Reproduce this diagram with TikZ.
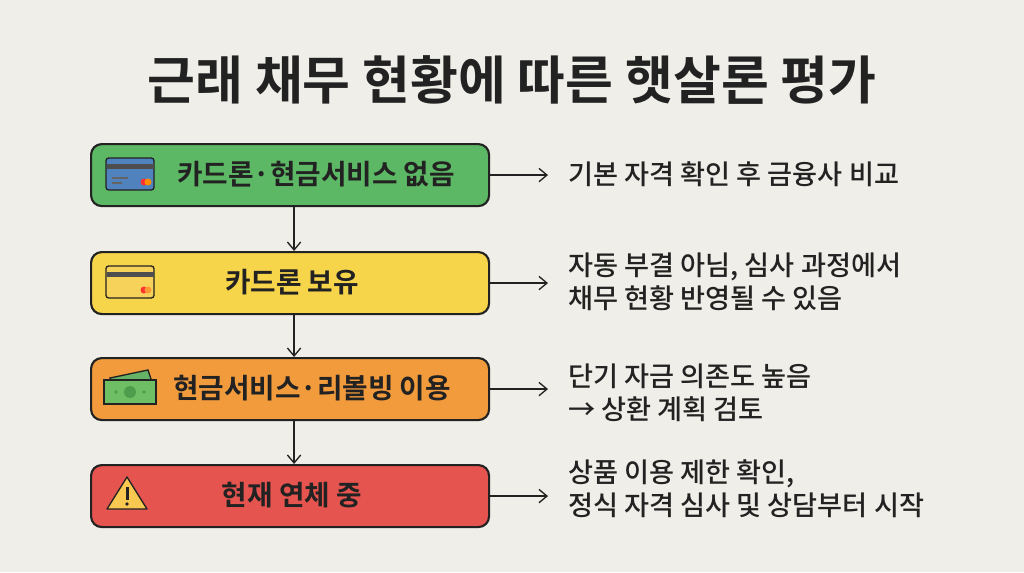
\documentclass[tikz,border=0pt]{standalone}
\usepackage{fontspec}
\setmainfont{Noto Sans CJK KR Medium}
\newfontfamily\kb{Noto Sans CJK KR Bold}
\usetikzlibrary{arrows.meta}
\definecolor{bg}{HTML}{F0EEE8}
\definecolor{ink}{HTML}{222222}
\definecolor{cg}{HTML}{5DB865}
\definecolor{cy}{HTML}{F7D54B}
\definecolor{co}{HTML}{F29B3D}
\definecolor{cr}{HTML}{E5544F}
\begin{document}
\begin{tikzpicture}[x=0.75pt,y=-0.75pt,
 box/.style={draw=ink,line width=1.6pt,rounded corners=8pt,minimum width=398*0.75pt,minimum height=62*0.75pt,anchor=north west,inner sep=0pt},
 lab/.style={font=\kb\fontsize{20.8}{25}\selectfont,text=ink},
 side/.style={font=\fontsize{20.4}{24.5}\selectfont,text=ink,align=left,anchor=west,inner sep=0pt},
 arr/.style={-{Straight Barb[length=6pt,width=10pt]},line width=1pt,draw=ink}]
\fill[bg] (0,0) rectangle (1024,572);
\node[font=\kb\fontsize{39}{44}\selectfont,text=ink] (title) at (512,80) {근래 채무 현황에 따른 햇살론 평가};
\node[box,fill=cg] (b1) at (90,143) {};
\node[box,fill=cy] (b2) at (90,251) {};
\node[box,fill=co] (b3) at (90,357) {};
\node[box,fill=cr] (b4) at (90,464) {};
\node[lab] (l1) at (316,174) {카드론·현금서비스 없음};
\node[lab] (l2) at (292,282) {카드론 보유};
\node[lab] (l3) at (312,388) {현금서비스·리볼빙 이용};
\node[lab] (l4) at (292,495) {현재 연체 중};
% icons
\begin{scope}[shift={(106,158)}]
 \draw[ink,line width=1pt,fill={rgb,255:red,80;green,130;blue,190},rounded corners=2pt] (0,0) rectangle (48,32);
 \fill[ink!80] (0.5,6) rectangle (47.5,11);
 \draw[ink!70,line width=1.2pt] (6,20)--(22,20) (6,25)--(16,25);
 \fill[red!80] (38,24) circle (3.5); \fill[orange!90!yellow] (42,24) circle (3.5);
\end{scope}
\begin{scope}[shift={(106,266)}]
 \draw[ink,line width=1pt,fill={rgb,255:red,247;green,210;blue,90},rounded corners=2pt] (0,0) rectangle (48,32);
 \fill[ink!80] (0.5,6) rectangle (47.5,11);
 \fill[red!80] (38,24) circle (3.5); \fill[orange!80] (42,24) circle (3.5);
\end{scope}
\begin{scope}[shift={(104,372)}]
 \draw[ink,line width=1pt,fill=green!50!black!60] (6,6) -- (44,-2) -- (48,10) -- (10,18) -- cycle;
 \draw[ink,line width=1pt,fill={rgb,255:red,110;green,190;blue,100}] (0,8) rectangle (52,32);
 \fill[green!45!black!70] (26,20) circle (6);
 \fill[green!45!black!70] (12,20) circle (1.8) (40,20) circle (1.8);
\end{scope}
\begin{scope}[shift={(107,477)}]
 \draw[ink,line width=1pt,fill={rgb,255:red,248;green,200;blue,80},line join=round] (20,0) -- (40,32) -- (0,32) -- cycle;
 \fill[ink] (18.5,10) rectangle (21.5,23); \fill[ink] (20,27) circle (1.8);
\end{scope}
% side texts
\node[side] (t1) at (568,174) {기본 자격 확인 후 금융사 비교};
\node[side] (t2) at (568,282) {자동 부결 아님, 심사 과정에서\\채무 현황 반영될 수 있음};
\node[side] (t3) at (568,393) {단기 자금 의존도 높음\\→ 상환 계획 검토};
\node[side] (t4) at (568,489) {상품 이용 제한 확인,\\정식 자격 심사 및 상담부터 시작};
\foreach \i/\j in {b1/b2,b2/b3,b3/b4}{
 \draw[arr] ([xshift=3pt]\i.south) -- ([xshift=3pt]\j.north);}
\foreach \i/\t in {b1/t1,b2/t2,b3/t3,b4/t4}{
 \draw[arr] (\i.east) -- ([xshift=-15pt]\t.west |- \i.east);}
\end{tikzpicture}
\end{document}
